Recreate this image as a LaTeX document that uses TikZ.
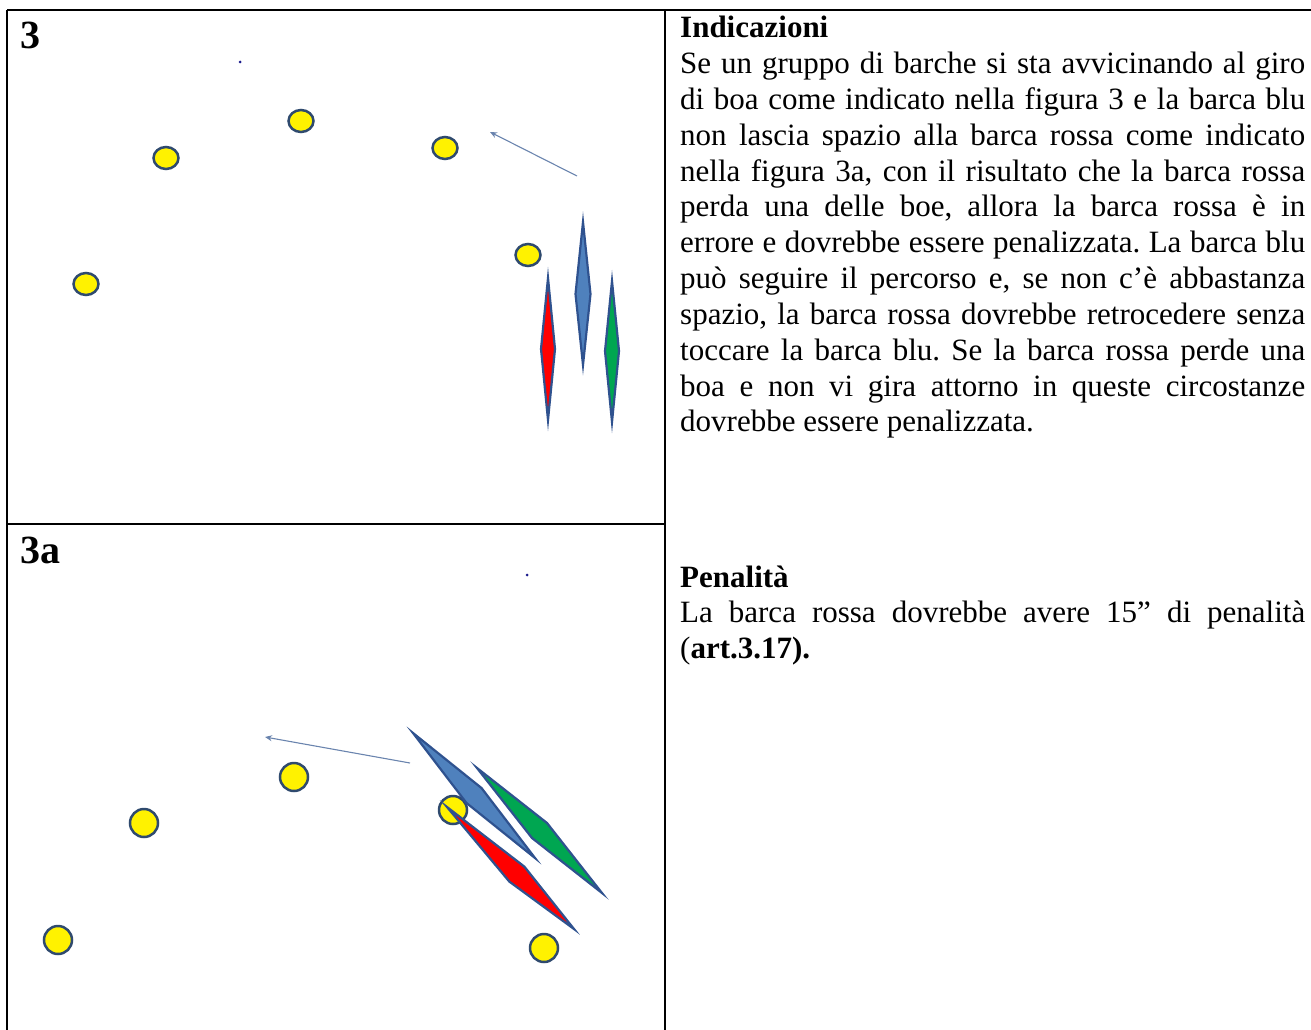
\documentclass[tikz,border=0pt]{standalone}
\usepackage{fontspec}
\setmainfont{Liberation Serif}
\usetikzlibrary{arrows.meta,calc}
\definecolor{boatline}{HTML}{2F528F}
\definecolor{boatblue}{HTML}{4F81BD}
\definecolor{boatred}{HTML}{FF0000}
\definecolor{boatgreen}{HTML}{00A651}
\definecolor{buoyline}{HTML}{2F4A6E}
\definecolor{arrowcol}{HTML}{6A84AE}
\definecolor{dotcol}{HTML}{1A1A8C}
\begin{document}
\begin{tikzpicture}[x=1pt,y=-1pt,
  frame/.style={line width=2.5pt,black},
  buoy/.style={fill=yellow,draw=buoyline,line width=2.5pt},
  boatbase/.style={draw=boatline,line width=2.2pt,line join=miter,miter limit=20},
  blueboat/.style={boatbase,fill=boatblue},
  redboat/.style={boatbase,fill=boatred},
  greenboat/.style={boatbase,fill=boatgreen},
  course/.style={draw=arrowcol,line width=1.1pt,-{Stealth[length=7pt,width=6pt]}},
  figlabel/.style={anchor=base west,inner sep=0pt,font=\fontsize{40}{44}\selectfont\bfseries},
  bodytext/.style={anchor=base west,inner sep=0pt,font=\fontsize{31}{35.8}\selectfont\frenchspacing}
]
\useasboundingbox (0,0) rectangle (1311,1030);
% table frame
\coordinate (tl) at (7,10);
\coordinate (tr) at (1311,10);
\coordinate (bl) at (7,1030);
\coordinate (mt) at (665,10);
\coordinate (mb) at (665,1030);
\coordinate (ml) at (7,524);
\coordinate (mr) at (665,524);
\draw[frame] (tl) -- (tr);
\draw[frame] (tl) -- (bl);
\draw[frame] (mt) -- (mb);
\draw[frame] (ml) -- (mr);

% labels
\node[figlabel] (l3) at (20,49) {3};
\node[figlabel] (l3a) at (20,563) {3a};

% ---------- figure 3 ----------
\fill[dotcol] (240,62) circle (1.5);
\foreach \p in {(166,158),(301,121),(445,148),(86,284),(528,255)}
  \draw[buoy] \p ellipse (12.5 and 11);
\coordinate (a3s) at (577,176);
\coordinate (a3e) at (490,132);
\draw[course] (a3s) -- (a3e);
% blue boat
\draw[blueboat] (583,222) -- (590.5,294) -- (583,365) -- (575.5,294) -- cycle;
% red boat
\draw[redboat] (548,278) -- (555,349) -- (548,420) -- (541,349) -- cycle;
% green boat
\draw[greenboat] (612,281) -- (619,351) -- (612,422) -- (605,351) -- cycle;

% ---------- figure 3a ----------
\fill[dotcol] (527,575) circle (1.5);
\foreach \p in {(294,777),(144,823),(453,810),(58,940),(544,948)}
  \draw[buoy] \p circle (14);
\coordinate (a4s) at (410,763);
\coordinate (a4e) at (265,737);
\draw[course] (a4s) -- (a4e);
% blue boat
\coordinate (bA) at (413,733); \coordinate (bB) at (535,858);
\draw[blueboat] (bA) -- ($ (bA)!0.5!(bB) + (-7.5,7.5) $) -- (bB) -- ($ (bA)!0.5!(bB) + (7.5,-7.5) $) -- cycle;
% green boat
\coordinate (gA) at (477,768); \coordinate (gB) at (602,893);
\draw[greenboat] (gA) -- ($ (gA)!0.5!(gB) + (-7.5,7.5) $) -- (gB) -- ($ (gA)!0.5!(gB) + (7.5,-7.5) $) -- cycle;
% red boat
\coordinate (rA) at (447,807); \coordinate (rB) at (574,929);
\draw[redboat] (rA) -- ($ (rA)!0.55!(rB) + (-7.5,7.5) $) -- (rB) -- ($ (rA)!0.55!(rB) + (7.5,-7.5) $) -- cycle;

% ---------- text ----------
\node[bodytext] (ind) at (680,38) {\parbox[t]{625pt}{\textbf{Indicazioni}\\
Se un gruppo di barche si sta avvicinando al giro\linebreak
di boa come indicato nella figura 3 e la barca blu\linebreak
non lascia spazio alla barca rossa come indicato\linebreak
nella figura 3a, con il risultato che la barca rossa\linebreak
perda una delle boe, allora la barca rossa è in\linebreak
errore e dovrebbe essere penalizzata. La barca blu\linebreak
può seguire il percorso e, se non c’è abbastanza\linebreak
spazio, la barca rossa dovrebbe retrocedere senza\linebreak
toccare la barca blu. Se la barca rossa perde una\linebreak
boa e non vi gira attorno in queste circostanze\linebreak
dovrebbe essere penalizzata.}};
\node[bodytext] (pen) at (680,587) {\parbox[t]{625pt}{\textbf{Penalità}\\
La barca rossa dovrebbe avere 15” di penalità\linebreak
(\textbf{art.3.17).}}};
\end{tikzpicture}
\end{document}
